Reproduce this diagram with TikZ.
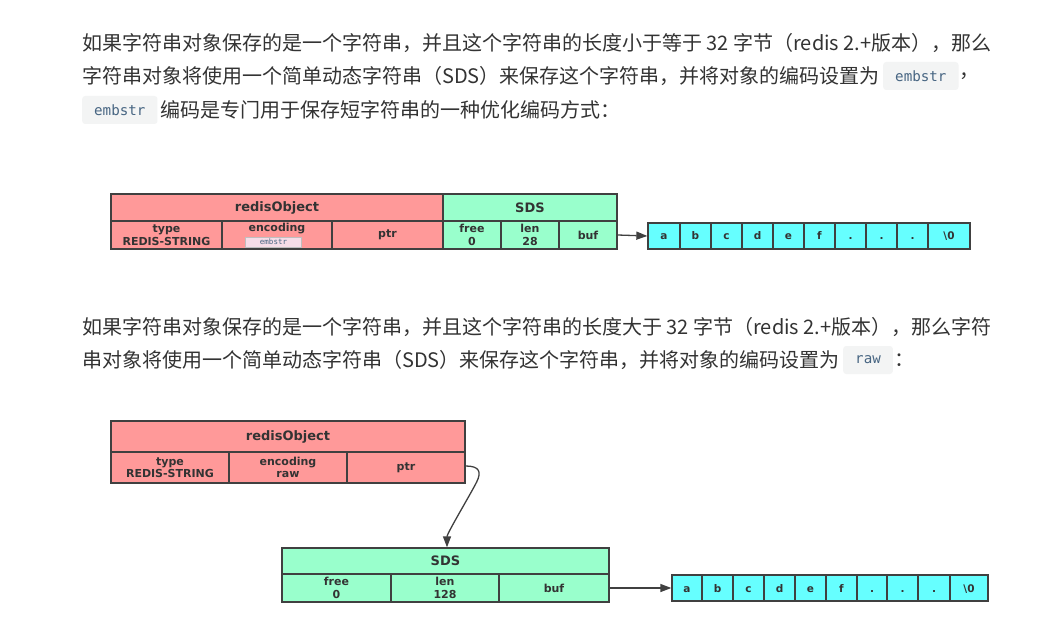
\documentclass[tikz,border=0pt]{standalone}
\usepackage{fontspec}
\setmainfont{DejaVu Sans}
\newfontfamily\cjkfont{Noto Sans CJK SC}
\setmonofont{DejaVu Sans Mono}
\usetikzlibrary{arrows.meta}
\definecolor{txt}{HTML}{333333}
\definecolor{codebg}{HTML}{F3F4F4}
\definecolor{codetxt}{HTML}{476582}
\definecolor{objred}{HTML}{FF9999}
\definecolor{sdsgreen}{HTML}{99FFCC}
\definecolor{bufcyan}{HTML}{66FFFF}
\definecolor{bord}{HTML}{404040}
\definecolor{tagbg}{HTML}{F6DDE8}
\begin{document}
\begin{tikzpicture}[x=1pt,y=-1pt,
  para/.style={anchor=west,inner sep=0pt,text=txt,font=\cjkfont\fontsize{20}{24}\selectfont},
  code/.style={anchor=west,inner xsep=12pt,inner ysep=0pt,minimum height=28pt,fill=codebg,rounded corners=3pt,text=codetxt,font=\ttfamily\fontsize{14.2}{16}\selectfont},
  cell/.style={draw=bord,line width=1.3pt,inner sep=0pt,text=txt,align=center,font=\bfseries\fontsize{11}{12.5}\selectfont},
  head/.style={cell,font=\bfseries\fontsize{13}{15}\selectfont},
  obj/.style={fill=objred},
  sds/.style={fill=sdsgreen},
  chr/.style={cell,fill=bufcyan,minimum height=26pt,text height=8pt,text depth=0pt,font=\bfseries\fontsize{10.5}{12}\selectfont},
  ptrarrow/.style={draw=bord,line width=1.3pt,-{Triangle[length=11pt,width=8pt]}}
]
\useasboundingbox[fill=white] (0,0) rectangle (1063,636);

% ---- paragraph 1 ----
\node[para] (p1) at (82,43) {如果字符串对象保存的是一个字符串，并且这个字符串的长度小于等于 32 字节（redis 2.+版本），那么};
\node[para] (p2a) at (82,76) {字符串对象将使用一个简单动态字符串（SDS）来保存这个字符串，并将对象的编码设置为};
\node[code] (c1) at ([xshift=3pt]p2a.east) {embstr};
\node[para] (p2b) at ([xshift=1pt]c1.east) {，};
\node[code] (c2) at (82,110) {embstr};
\node[para] (p3) at ([xshift=3pt]c2.east) {编码是专门用于保存短字符串的一种优化编码方式：};

% ---- diagram 1 ----
\node[head,obj,minimum width=332pt,minimum height=27pt] (ro1) at (277,207.5) {redisObject};
\node[cell,obj,minimum width=111pt,minimum height=28pt] (type1) at (166.5,235) {type\\REDIS-STRING};
\node[cell,obj,minimum width=110pt,minimum height=28pt] (enc1) at (277,235) {};
\node[cell,draw=none,inner sep=0pt] (enc1l) at (277,228.5) {encoding};
\node[draw=black!25,line width=0.5pt,fill=tagbg,minimum width=56pt,minimum height=10pt,inner sep=0pt,text=codetxt,font=\ttfamily\fontsize{7.5}{8}\selectfont] (tag1) at (273.5,242) {embstr};
\node[cell,obj,minimum width=111pt,minimum height=28pt] (ptr1) at (387.5,235) {ptr};
\node[head,sds,minimum width=174pt,minimum height=27pt] (sds1) at (530,207.5) {SDS};
\node[cell,sds,minimum width=58pt,minimum height=28pt] (free1) at (472,235) {free\\0};
\node[cell,sds,minimum width=58pt,minimum height=28pt] (len1) at (530,235) {len\\28};
\node[cell,sds,minimum width=58pt,minimum height=28pt] (buf1) at (588,235) {buf};
\node[chr,minimum width=32pt] (a1) at (664,236) {a};
\node[chr,minimum width=31pt] (b1) at (695.5,236) {b};
\node[chr,minimum width=31pt] (cc1) at (726.5,236) {c};
\node[chr,minimum width=31pt] (d1) at (757.5,236) {d};
\node[chr,minimum width=31pt] (e1) at (788.5,236) {e};
\node[chr,minimum width=31pt] (f1) at (819.5,236) {f};
\node[chr,minimum width=31pt] (g1) at (850.5,236) {.};
\node[chr,minimum width=31pt] (h1) at (881.5,236) {.};
\node[chr,minimum width=31pt] (i1) at (912.5,236) {.};
\node[chr,minimum width=42pt] (z1) at (949,236) {\textbackslash0};
\draw[ptrarrow] (buf1.east) -- (a1.west);

% ---- paragraph 2 ----
\node[para] (q1) at (82,327) {如果字符串对象保存的是一个字符串，并且这个字符串的长度大于 32 字节（redis 2.+版本），那么字符};
\node[para] (q2a) at (82,360) {串对象将使用一个简单动态字符串（SDS）来保存这个字符串，并将对象的编码设置为};
\node[code] (c3) at ([xshift=3pt]q2a.east) {raw};
\node[para] (q2b) at ([xshift=1pt]c3.east) {：};

% ---- diagram 2 ----
\node[head,obj,minimum width=354pt,minimum height=31pt] (ro2) at (288,436.5) {redisObject};
\node[cell,obj,minimum width=118pt,minimum height=31pt] (type2) at (170,467.5) {type\\REDIS-STRING};
\node[cell,obj,minimum width=118pt,minimum height=31pt] (enc2) at (288,467.5) {encoding\\raw};
\node[cell,obj,minimum width=118pt,minimum height=31pt] (ptr2) at (406,467.5) {ptr};
\node[head,sds,minimum width=327pt,minimum height=26pt] (sds2) at (445.5,561) {SDS};
\node[cell,sds,minimum width=109pt,minimum height=28pt] (free2) at (336.5,588) {free\\0};
\node[cell,sds,minimum width=108pt,minimum height=28pt] (len2) at (445,588) {len\\128};
\node[cell,sds,minimum width=110pt,minimum height=28pt] (buf2) at (554,588) {buf};
\node[chr,minimum width=30pt] (a2) at (687,588) {a};
\node[chr,minimum width=31pt] (b2) at (717.5,588) {b};
\node[chr,minimum width=31pt] (cc2) at (748.5,588) {c};
\node[chr,minimum width=31pt] (d2) at (779.5,588) {d};
\node[chr,minimum width=31pt] (e2) at (810.5,588) {e};
\node[chr,minimum width=31pt] (f2) at (841.5,588) {f};
\node[chr,minimum width=30pt] (g2) at (872,588) {.};
\node[chr,minimum width=31pt] (h2) at (902.5,588) {.};
\node[chr,minimum width=32pt] (i2) at (934,588) {.};
\node[chr,minimum width=38pt] (z2) at (969,588) {\textbackslash0};
\draw[ptrarrow] (buf2.east) -- (a2.west);
\draw[ptrarrow] ([yshift=1.5pt]ptr2.east) .. controls +(14,0) and +(5,-10) .. ++(11,16) .. controls +(-6,12) and +(0,-14) .. ([xshift=1.5pt]sds2.north);
\end{tikzpicture}
\end{document}
